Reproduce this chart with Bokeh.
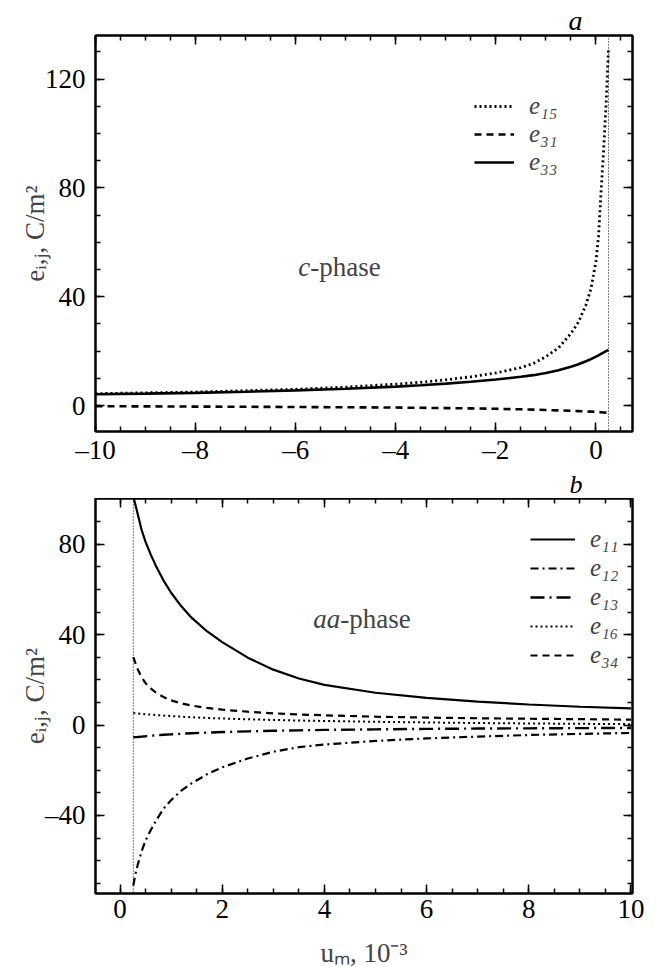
import numpy as np
from bokeh.plotting import figure
from bokeh.models import (LinearAxis, Range1d, Span, Label, Legend, LegendItem,
                          FixedTicker, Title, CustomLabelingPolicy)
from bokeh.layouts import column
from bokeh.embed import file_html
from bokeh.resources import INLINE

FONT = "Liberation Serif"

# ---------------- panel a : c-phase ----------------
um_a = [-10, -9, -8, -7, -6, -5, -4, -3.5, -3, -2.5, -2, -1.5, -1.25, -1,
        -0.75, -0.5, -0.35, -0.2, -0.1, 0, 0.05, 0.1, 0.15, 0.2, 0.25]
e15 = [4.4, 4.7, 5.0, 5.5, 6.0, 6.8, 7.9, 8.6, 9.5, 10.6, 12.0, 14.0, 15.5, 18.0,
       21.2, 26.5, 30.7, 37.0, 43.0, 53.0, 62.0, 78.0, 93.0, 110.0, 131.0]
e31 = [-0.2, -0.27, -0.35, -0.42, -0.5, -0.6, -0.7, -0.8, -0.9, -1.0, -1.15, -1.35, -1.45, -1.6,
       -1.75, -1.9, -2.0, -2.1, -2.2, -2.3, -2.35, -2.42, -2.5, -2.55, -2.6]
e33 = [4.2, 4.4, 4.7, 5.1, 5.6, 6.2, 7.0, 7.5, 8.1, 8.8, 9.6, 10.6, 11.2, 12.0,
       13.0, 14.3, 15.2, 16.3, 17.1, 18.0, 18.5, 19.0, 19.5, 20.0, 20.5]
uc_a = 0.25

# ---------------- panel b : aa-phase ----------------
um_b = [0.26, 0.3, 0.35, 0.42, 0.5, 0.6, 0.7, 0.85, 1.0, 1.2, 1.4, 1.7, 2.0,
        2.5, 3.0, 3.5, 4.0, 5.0, 6.0, 7.0, 8.0, 9.0, 10.0]
e11 = [101, 97.5, 93, 86.5, 81, 75.5, 70.5, 64, 58.5, 52.5, 47.5, 41.5, 36.7,
       29.8, 24.5, 20.6, 17.8, 14.3, 12.0, 10.4, 9.1, 8.1, 7.4]
e12 = [-71, -66, -61.5, -56, -51, -46.5, -42.5, -37, -33.2, -29, -25.8, -21.8, -18.7,
       -14.8, -11.8, -9.8, -8.6, -7.0, -5.9, -5.1, -4.4, -3.9, -3.5]
e13 = [-5.4, -5.35, -5.3, -5.1, -4.95, -4.75, -4.55, -4.3, -4.1, -3.85, -3.6, -3.35, -3.1,
       -2.8, -2.55, -2.35, -2.15, -1.9, -1.7, -1.55, -1.45, -1.35, -1.3]
e16 = [5.3, 5.2, 5.1, 4.95, 4.8, 4.6, 4.45, 4.2, 4.0, 3.7, 3.45, 3.15, 2.9,
       2.55, 2.25, 2.0, 1.8, 1.45, 1.15, 0.9, 0.7, 0.55, 0.4]
e34 = [30, 27.5, 24.5, 21.2, 18.5, 16.2, 14.4, 12.4, 10.9, 9.6, 8.6, 7.6, 6.8,
       5.9, 5.2, 4.7, 4.3, 3.7, 3.3, 3.0, 2.8, 2.6, 2.4]
uc_b = 0.26

# ticks / labels
xticks_a = [-10, -8, -6, -4, -2, 0]
xlabels_a = ["\u201310", "\u20138", "\u20136", "\u20134", "\u20132", "0"]
yticks_a = [0, 40, 80, 120]
ylabels_a = ["0", "40", "80", "120"]
xticks_b = [0, 2, 4, 6, 8, 10]
xlabels_b = ["0", "2", "4", "6", "8", "10"]
yticks_b = [-40, 0, 40, 80]
ylabels_b = ["\u201340", "0", "40", "80"]

TICK_FS = "27px"


def setup_axes(p, xt, xl, xminor, yt, yl, yminor, xstandoff, xtitle=None):
    xb = p.below[0]
    yl_ax = p.left[0]
    xtick = FixedTicker(ticks=xt, minor_ticks=xminor)
    ytick = FixedTicker(ticks=yt, minor_ticks=yminor)
    xb.ticker = xtick
    yl_ax.ticker = ytick
    xb.major_label_overrides = {float(t): l for t, l in zip(xt, xl)}
    yl_ax.major_label_overrides = {float(t): l for t, l in zip(yt, yl)}
    no_labels = CustomLabelingPolicy(code="return []")
    extra_top = LinearAxis(ticker=xtick, major_label_policy=no_labels)
    extra_right = LinearAxis(ticker=ytick, major_label_policy=no_labels)
    p.add_layout(extra_top, "above")
    p.add_layout(extra_right, "right")
    for ax in [xb, yl_ax, extra_top, extra_right]:
        ax.axis_line_width = 2
        ax.axis_line_color = "black"
        ax.major_tick_in = 9
        ax.major_tick_out = 0
        ax.minor_tick_in = 5
        ax.minor_tick_out = 0
        ax.major_tick_line_width = 1.5
        ax.minor_tick_line_width = 1.5
        ax.major_tick_line_color = "black"
        ax.minor_tick_line_color = "black"
        ax.major_label_text_font = FONT
        ax.major_label_text_font_size = TICK_FS
        ax.major_label_text_color = "black"
    for ax in [extra_top, extra_right]:
        ax.major_label_text_font_size = "0px"
        ax.major_label_standoff = 0
    xb.major_label_standoff = xstandoff
    yl_ax.major_label_standoff = 10
    yl_ax.axis_label = "e\u1d62,\u2c7c, C/m\u00b2"
    yl_ax.axis_label_text_font = FONT
    yl_ax.axis_label_text_font_size = "27px"
    yl_ax.axis_label_text_font_style = "normal"
    yl_ax.axis_label_standoff = -8
    if xtitle:
        xb.axis_label = xtitle
        xb.axis_label_text_font = FONT
        xb.axis_label_text_font_size = "27px"
        xb.axis_label_text_font_style = "normal"
        xb.axis_label_standoff = 17
    p.grid.visible = False
    p.outline_line_color = "black"
    p.outline_line_width = 2


def style_legend(leg, gw, lh):
    leg.border_line_alpha = 0
    leg.background_fill_alpha = 0
    leg.padding = 0
    leg.margin = 0
    leg.spacing = 0
    leg.glyph_width = gw
    leg.glyph_height = 20
    leg.label_standoff = 15
    leg.label_text_font = FONT
    leg.label_text_font_size = "25px"
    leg.label_text_font_style = "italic"
    leg.label_height = lh


def panel_title(p, txt, where, size):
    t = Title(text=txt, align="right", offset=50, standoff=0,
              text_font=FONT, text_font_size=size, text_font_style="italic",
              text_color="black")
    p.add_layout(t, where)


# ---------------- figure a ----------------
p1 = figure(frame_width=537, frame_height=396,
            x_range=Range1d(-10, 0.73), y_range=Range1d(-9.5, 136),
            output_backend="svg", toolbar_location=None,
            min_border_left=95, min_border_right=20,
            min_border_top=35, min_border_bottom=0,
            background_fill_color="white", border_fill_color="white")
setup_axes(p1, xticks_a, xlabels_a, list(np.arange(-10, 0.75, 0.5)),
           yticks_a, ylabels_a, list(np.arange(-10, 140, 10)), 3)
panel_title(p1, "a", "above", "28px")
panel_title(p1, "b", "below", "26px")

p1.add_layout(Span(location=uc_a, dimension="height", line_color="black",
                   line_width=1, line_dash="1 2"))
r15 = p1.line(um_a, e15, line_color="black", line_width=2.8, line_dash="2 3")
r31 = p1.line(um_a, e31, line_color="black", line_width=2.6, line_dash="7 5")
r33 = p1.line(um_a, e33, line_color="black", line_width=2.6)

leg1 = Legend(items=[LegendItem(label="e\u2081\u2085", renderers=[r15]),
                     LegendItem(label="e\u2083\u2081", renderers=[r31]),
                     LegendItem(label="e\u2083\u2083", renderers=[r33])],
              location=(379, 255))
style_legend(leg1, 40, 28)
p1.add_layout(leg1)

p1.add_layout(Label(x=-5.71, y=51, text="c", text_font=FONT, text_font_size="27px",
                    text_font_style="italic", text_align="right", text_baseline="middle"))
p1.add_layout(Label(x=-5.71, y=51, text="-phase", text_font=FONT, text_font_size="27px",
                    text_align="left", text_baseline="middle"))

# ---------------- figure b ----------------
p2 = figure(frame_width=537, frame_height=395,
            x_range=Range1d(-0.48, 10.03), y_range=Range1d(-74.5, 100.2),
            output_backend="svg", toolbar_location=None,
            min_border_left=95, min_border_right=20,
            min_border_top=0, min_border_bottom=70,
            background_fill_color="white", border_fill_color="white")
setup_axes(p2, xticks_b, xlabels_b, list(np.arange(0, 10.01, 0.5)),
           yticks_b, ylabels_b, list(np.arange(-70, 101, 10)), 6,
           xtitle="u\u2098, 10\u207b\u00b3")

p2.add_layout(Span(location=uc_b, dimension="height", line_color="black",
                   line_width=1, line_dash="1 2"))
s11 = p2.line(um_b, e11, line_color="black", line_width=2.2)
s12 = p2.line(um_b, e12, line_color="black", line_width=2.2, line_dash="8 4 2 4")
s13 = p2.line(um_b, e13, line_color="black", line_width=2.4, line_dash="14 5 2 5")
s16 = p2.line(um_b, e16, line_color="black", line_width=2.0, line_dash="2 3")
s34 = p2.line(um_b, e34, line_color="black", line_width=2.2, line_dash="7 5")

leg2 = Legend(items=[LegendItem(label="e\u2081\u2081", renderers=[s11]),
                     LegendItem(label="e\u2081\u2082", renderers=[s12]),
                     LegendItem(label="e\u2081\u2083", renderers=[s13]),
                     LegendItem(label="e\u2081\u2086", renderers=[s16]),
                     LegendItem(label="e\u2083\u2084", renderers=[s34])],
              location=(435, 224))
style_legend(leg2, 45, 29)
p2.add_layout(leg2)

p2.add_layout(Label(x=4.31, y=47, text="aa", text_font=FONT, text_font_size="27px",
                    text_font_style="italic", text_align="right", text_baseline="middle"))
p2.add_layout(Label(x=4.31, y=47, text="-phase", text_font=FONT, text_font_size="27px",
                    text_align="left", text_baseline="middle"))

layout = column(p1, p2, spacing=0)
open("out.html", "w").write(file_html(layout, INLINE))
